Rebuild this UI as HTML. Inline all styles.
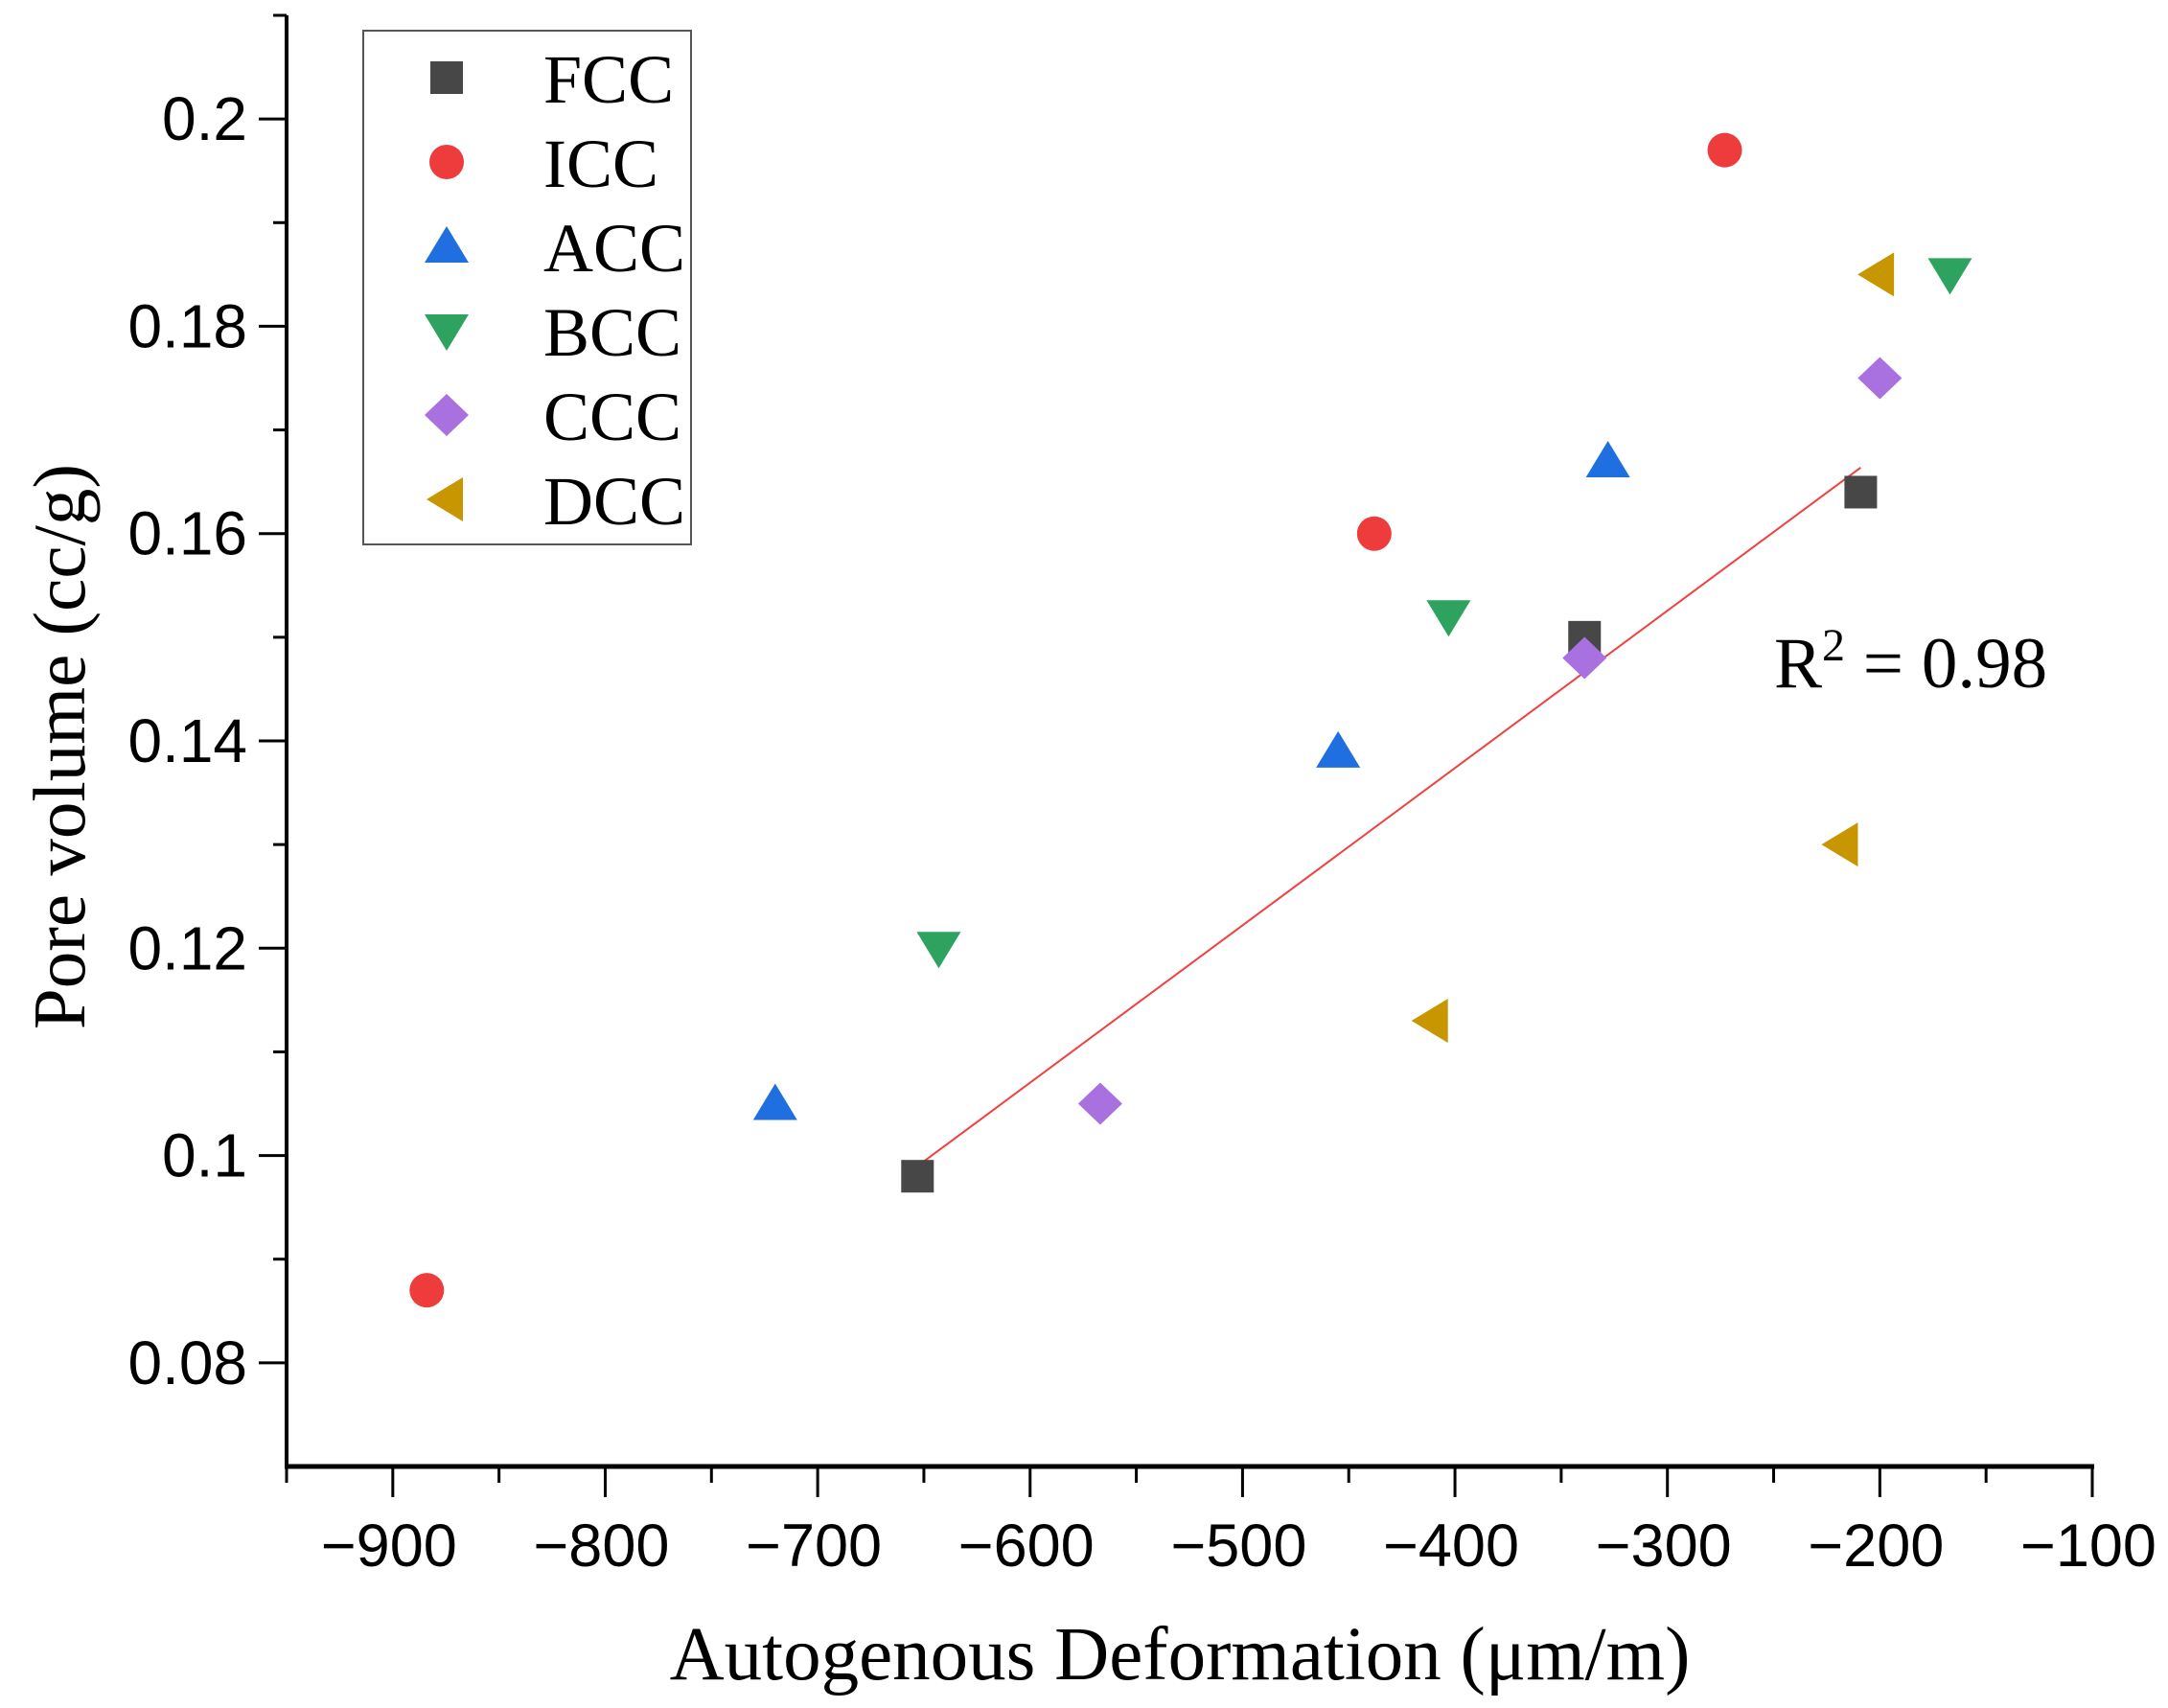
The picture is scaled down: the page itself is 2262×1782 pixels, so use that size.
<!DOCTYPE html>
<html><head><meta charset="utf-8"><style>
html,body{margin:0;padding:0;background:#fff;}
svg{display:block;}
</style></head><body>
<svg id="chart" width="2262" height="1782" viewBox="0 0 2262 1782" xmlns="http://www.w3.org/2000/svg">
<g id="axes"></g>
<g id="marks"></g>
<g id="legend"></g>
<text x="1231" y="1752" text-anchor="middle" font-family="Liberation Serif, serif" font-size="79">Autogenous Deformation (μm/m)</text>
<text transform="translate(88,779) rotate(-90)" text-anchor="middle" font-family="Liberation Serif, serif" font-size="77">Pore volume (cc/g)</text>
<text x="1851" y="717" font-family="Liberation Serif, serif" font-size="75">R<tspan dy="-28" font-size="48">2</tspan><tspan dy="28"> = 0.98</tspan></text>
</svg>
<script>
const seriesNames = ["FCC","ICC","ACC","BCC","CCC","DCC"];
const fccX = [-653,-339,-209]; const fccY = [0.098,0.150,0.164];
const iccX = [-884,-438,-273]; const iccY = [0.087,0.160,0.197];
const accX = [-720,-455,-328]; const accY = [0.105,0.139,0.167];
const bccX = [-643,-403,-167]; const bccY = [0.120,0.152,0.185];
const cccX = [-567,-339,-200]; const cccY = [0.105,0.148,0.175];
const dccX = [-411,-218,-201]; const dccY = [0.113,0.130,0.185];
const xTicks = [-900,-800,-700,-600,-500,-400,-300,-200,-100];
const yTicks = [0.08,0.1,0.12,0.14,0.16,0.18,0.2];
const yTickLabels = ["0.08","0.1","0.12","0.14","0.16","0.18","0.2"];

const NS="http://www.w3.org/2000/svg";
const X0=-950,X1=-100,PX0=299,PX1=2183;
const Y0=0.07,Y1=0.21,PY0=1530,PY1=16;
function sx(v){return PX0+(v-X0)/(X1-X0)*(PX1-PX0);}
function sy(v){return PY0+(v-Y0)/(Y1-Y0)*(PY1-PY0);}
function mk(tag,attrs,parent){const e=document.createElementNS(NS,tag);for(const k in attrs)e.setAttribute(k,attrs[k]);parent.appendChild(e);return e;}
const axes=document.getElementById('axes'),marks=document.getElementById('marks'),legend=document.getElementById('legend');

let yAxis=mk('line',{x1:PX0,y1:PY1,x2:PX0,y2:PY0+2,stroke:'#000','stroke-width':4},axes);


let xAxis=mk('line',{x1:PX0-2,y1:PY0,x2:PX1+2,y2:PY0,stroke:'#000','stroke-width':5},axes);


for(let v=-950;v<=-100.01+0.02;v+=50){
  const major=xTicks.includes(Math.round(v));
  let t=mk('line',{x1:sx(v),y1:PY0,x2:sx(v),y2:PY0+(major?32:17),stroke:'#000','stroke-width':3},axes);
  
  
}
xTicks.forEach(v=>{
  let t=mk('text',{x:sx(v)-4,y:1634,'text-anchor':'middle','font-family':'Liberation Sans, sans-serif','font-size':63},axes);
  t.textContent='\u2212'+Math.abs(v);
  
  
});
for(let i=0;i<=13;i++){
  const v=0.08+i*0.01;
  const major=(i%2===0);
  let t=mk('line',{x1:PX0-(major?29:14),y1:sy(v),x2:PX0,y2:sy(v),stroke:'#000','stroke-width':3},axes);
  
  
}
yTicks.forEach((v,i)=>{
  let t=mk('text',{x:258,y:sy(v)+22,'text-anchor':'end','font-family':'Liberation Sans, sans-serif','font-size':64},axes);
  t.textContent=yTickLabels[i];
  
  
});

(function(){
  const n=fccX.length;const mx=fccX.reduce((a,b)=>a+b)/n,my=fccY.reduce((a,b)=>a+b)/n;
  let sxy=0,sxx=0;for(let i=0;i<n;i++){sxy+=(fccX[i]-mx)*(fccY[i]-my);sxx+=(fccX[i]-mx)**2;}
  const b=sxy/sxx,a=my-b*mx;const xa=Math.min(...fccX),xb=Math.max(...fccX);
  let l=mk('line',{x1:sx(xa),y1:sy(a+b*xa),x2:sx(xb),y2:sy(a+b*xb),stroke:'#f04040','stroke-width':2},marks);
  
  
})();

const colors=["#474747","#ee3b3b","#1f6fe0","#2ea35f","#a970e0","#c89600"];
const shapes=["square","circle","up","down","diamond","left"];
function marker(shape,cx,cy,color,parent){
  const s=17;
  if(shape==='square')return mk('rect',{x:cx-s,y:cy-s,width:2*s,height:2*s,fill:color},parent);
  if(shape==='circle')return mk('circle',{cx:cx,cy:cy,r:18,fill:color},parent);
  let p;
  if(shape==='up')p=[[cx,cy-21],[cx+23,cy+17],[cx-23,cy+17]];
  if(shape==='down')p=[[cx-23,cy-17],[cx+23,cy-17],[cx,cy+21]];
  if(shape==='diamond')p=[[cx,cy-22],[cx+23,cy],[cx,cy+22],[cx-23,cy]];
  if(shape==='left')p=[[cx-21,cy],[cx+17,cy-23],[cx+17,cy+23]];
  return mk('polygon',{points:p.map(q=>q.join(',')).join(' '),fill:color},parent);
}
const allX=[fccX,iccX,accX,bccX,cccX,dccX],allY=[fccY,iccY,accY,bccY,cccY,dccY];
allX.forEach((xs,si)=>{xs.forEach((v,i)=>{
  const m=marker(shapes[si],sx(v),sy(allY[si][i]),colors[si],marks);
  
  
});});

let box=mk('rect',{x:379,y:32,width:342,height:536,fill:'#fff',stroke:'#555','stroke-width':2},legend);


seriesNames.forEach((n,i)=>{
  const cy=81+i*88;
  const m=marker(shapes[i],466,cy,colors[i],legend);
  
  
  let t=mk('text',{x:567,y:cy+26,'font-family':'Liberation Serif, serif','font-size':72},legend);
  t.textContent=n;
  
  
});
</script>
</body></html>
